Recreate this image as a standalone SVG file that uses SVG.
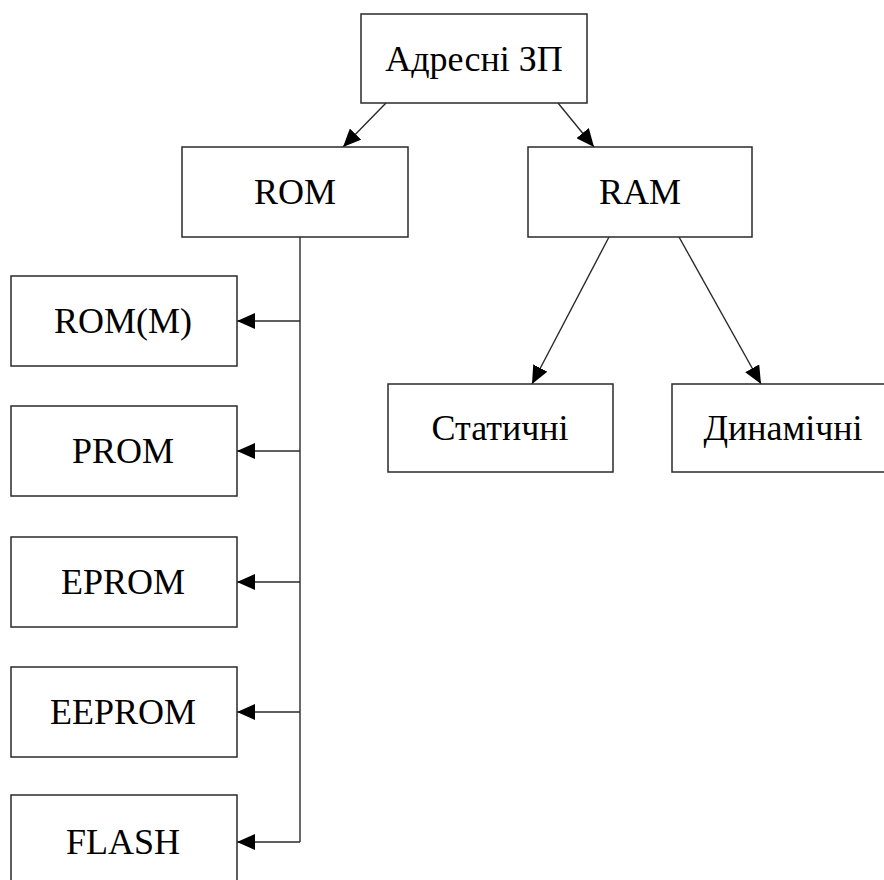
<svg xmlns="http://www.w3.org/2000/svg" width="884" height="880" viewBox="0 0 884 880">
<style>
.box{fill:#fff;stroke:#2a2a2a;stroke-width:1.5}
.lbl{font-size:36px;fill:#000;text-anchor:middle}
.con{fill:none;stroke:#2a2a2a;stroke-width:1.4}
</style>
<defs>
<marker id="ah" markerUnits="userSpaceOnUse" markerWidth="19" markerHeight="16" refX="18" refY="8" orient="auto" viewBox="0 0 19 16">
<path d="M0,0 L18,8 L0,16 z" fill="#000"/>
</marker>
</defs>
<rect width="884" height="880" fill="#fff"/>
<g id="connectors">
<line class="con" x1="386" y1="103" x2="343" y2="147" marker-end="url(#ah)"/>
<line class="con" x1="558" y1="103" x2="594" y2="147" marker-end="url(#ah)"/>
<line class="con" x1="609" y1="237" x2="532" y2="384" marker-end="url(#ah)"/>
<line class="con" x1="679" y1="237" x2="761" y2="384" marker-end="url(#ah)"/>
<polyline class="con" points="300,237 300,842"/>
<line class="con" x1="300" y1="321" x2="237" y2="321" marker-end="url(#ah)"/>
<line class="con" x1="300" y1="451" x2="237" y2="451" marker-end="url(#ah)"/>
<line class="con" x1="300" y1="582" x2="237" y2="582" marker-end="url(#ah)"/>
<line class="con" x1="300" y1="712" x2="237" y2="712" marker-end="url(#ah)"/>
<line class="con" x1="300" y1="842" x2="237" y2="842" marker-end="url(#ah)"/>
</g>
<g font-family="Liberation Serif, Tinos, Times New Roman, Times, DejaVu Serif, serif">
<g id="n-adresni"><rect class="box" x="361" y="14" width="226" height="89"/><text class="lbl" x="474" y="71">Адресні ЗП</text></g>
<g id="n-rom"><rect class="box" x="182" y="147" width="226" height="90"/><text class="lbl" x="295" y="204">ROM</text></g>
<g id="n-ram"><rect class="box" x="528" y="147" width="224" height="90"/><text class="lbl" x="640" y="204">RAM</text></g>
<g id="n-static"><rect class="box" x="388" y="384" width="225" height="88"/><text class="lbl" x="500" y="440">Статичні</text></g>
<g id="n-dynamic"><rect class="box" x="672" y="384" width="226" height="88"/><text class="lbl" x="783" y="440">Динамічні</text></g>
<g id="n-romm"><rect class="box" x="11" y="276" width="226" height="90"/><text class="lbl" x="123" y="333">ROM(M)</text></g>
<g id="n-prom"><rect class="box" x="11" y="406" width="226" height="90"/><text class="lbl" x="123" y="463">PROM</text></g>
<g id="n-eprom"><rect class="box" x="11" y="537" width="226" height="90"/><text class="lbl" x="123" y="594">EPROM</text></g>
<g id="n-eeprom"><rect class="box" x="11" y="667" width="226" height="90"/><text class="lbl" x="123" y="724">EEPROM</text></g>
<g id="n-flash"><rect class="box" x="11" y="795" width="226" height="90"/><text class="lbl" x="123" y="854">FLASH</text></g>
</g>
</svg>
